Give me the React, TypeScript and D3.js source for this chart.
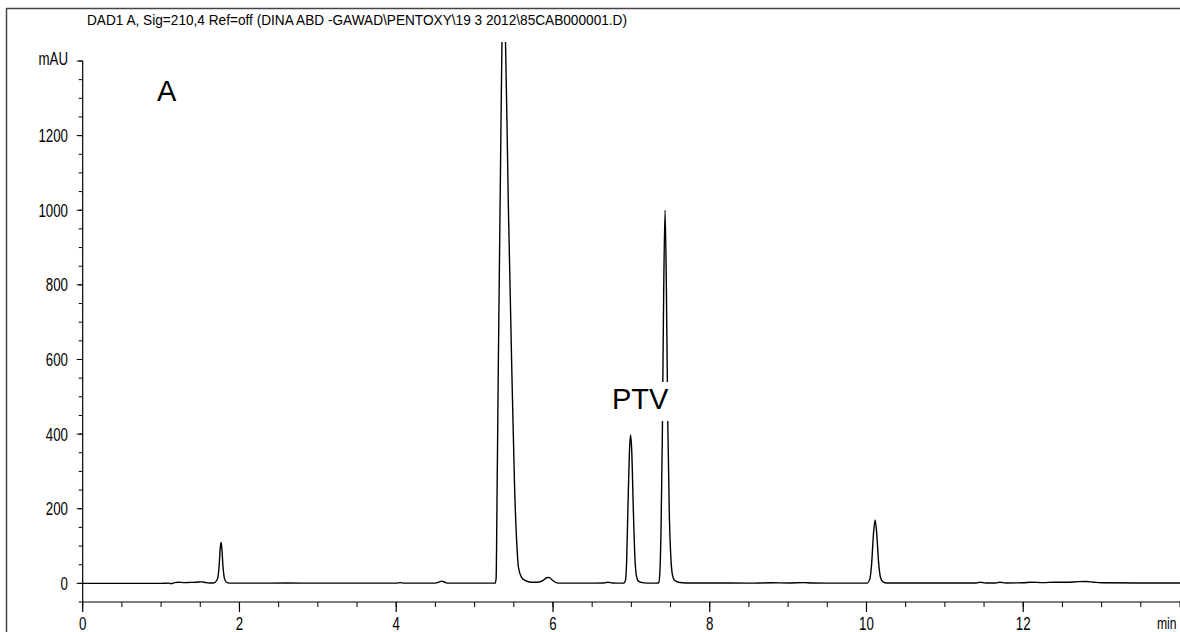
import React from "react";
import * as d3 from "d3";

const TITLE = "DAD1 A, Sig=210,4 Ref=off (DINA ABD -GAWAD\\PENTOXY\\19 3 2012\\85CAB000001.D)";

// trace segments: [time (min), signal (mAU)]
const baselineStart: [number, number][] = [
  [0, 0], [0.5, 0], [1.0, 0], [1.1, 0.5], [1.13, -1], [1.17, 2], [1.22, 3], [1.3, 2],
  [1.38, 2.5], [1.45, 3], [1.52, 4], [1.57, 2], [1.62, 1], [1.66, 1],
];
const peak1: [number, number][] = [
  [1.69, 3], [1.72, 12], [1.74, 45], [1.755, 95], [1.765, 110], [1.775, 95],
  [1.79, 45], [1.81, 12], [1.835, 3], [1.87, 0.5],
];
const baselineMid1: [number, number][] = [
  [2.2, 0.5], [2.6, 0.8], [3.0, 0.5], [3.5, 0.5], [4.0, 0.5], [4.05, 2], [4.1, 0.5],
  [4.5, 0.5], [4.55, 4], [4.58, 6], [4.62, 3], [4.66, 0.5], [5.0, 0.5], [5.24, 0.5],
];
const mainPeak: [number, number][] = [
  [5.265, 1], [5.275, 15], [5.285, 200], [5.303, 590], [5.33, 1100], [5.355, 1550],
  [5.368, 1650], [5.385, 1560], [5.43, 1020], [5.473, 590], [5.51, 260], [5.54, 100],
  [5.56, 42], [5.6, 16], [5.65, 7], [5.72, 3], [5.8, 3], [5.87, 7], [5.92, 15],
  [5.95, 16], [5.99, 9], [6.04, 2], [6.1, 0.5],
];
const baselineMid2: [number, number][] = [
  [6.4, 0.5], [6.65, 1], [6.7, 3], [6.76, 1], [6.88, 0.5],
];
const ptvPeak1: [number, number][] = [
  [6.905, 1], [6.925, 8], [6.94, 60], [6.955, 190], [6.975, 350], [6.99, 398],
  [7.005, 355], [7.025, 200], [7.045, 70], [7.065, 20], [7.09, 6], [7.14, 2],
  [7.25, 0.5], [7.33, 0.5],
];
const ptvPeak2: [number, number][] = [
  [7.35, 2], [7.365, 35], [7.38, 160], [7.395, 390], [7.412, 770], [7.43, 1000],
  [7.447, 790], [7.465, 430], [7.485, 180], [7.505, 65], [7.525, 22], [7.55, 8],
  [7.6, 3], [7.7, 1],
];
const baselineMid3: [number, number][] = [
  [8.0, 1], [8.5, 0.5], [8.8, 1.5], [9.0, 1], [9.2, 2], [9.3, 1], [9.6, 0.5], [9.98, 0.5],
];
const peak10: [number, number][] = [
  [10.01, 1], [10.04, 10], [10.065, 50], [10.09, 135], [10.11, 170], [10.13, 135],
  [10.155, 55], [10.18, 15], [10.21, 4], [10.26, 1],
];
const baselineEnd: [number, number][] = [
  [10.6, 1], [11.0, 1], [11.4, 1], [11.45, 3], [11.52, 1], [11.65, 1], [11.7, 3],
  [11.78, 1], [12.0, 1.5], [12.1, 3], [12.25, 2], [12.4, 3], [12.55, 3], [12.7, 4.5],
  [12.8, 5], [12.9, 3], [13.0, 1.5], [13.5, 1], [14, 1],
];

const X_MAJOR = [0, 2, 4, 6, 8, 10, 12];
const X_MINOR = d3.range(0, 14.01, 0.5);
const Y_MAJOR = [0, 200, 400, 600, 800, 1000, 1200];
const Y_MINOR = d3.range(-50, 1400.1, 50);

const FONT = "'Liberation Sans', Arial, sans-serif";
const NARROW = 0.76;

function NText({ x, y, anchor, size, children }: { x: number; y: number; anchor: "start" | "middle" | "end"; size: number; children: React.ReactNode }) {
  return (
    <text transform={`translate(${x},${y}) scale(${NARROW},1)`} textAnchor={anchor} fontFamily={FONT} fontSize={size} fill="#000">
      {children}
    </text>
  );
}

export default function App() {
  const W = 1180, H = 632;
  const x = d3.scaleLinear().domain([0, 14]).range([82.7, 1180]);
  const y = d3.scaleLinear().domain([-50, 1400]).range([602, 61]);
  const trace = [
    ...baselineStart, ...peak1, ...baselineMid1, ...mainPeak, ...baselineMid2,
    ...ptvPeak1, ...ptvPeak2, ...baselineMid3, ...peak10, ...baselineEnd,
  ];
  const line = d3.line<[number, number]>()
    .x(d => x(d[0]))
    .y(d => y(d[1]))
    .curve(d3.curveMonotoneX);
  const x0 = x(0), yb = y(-50);

  return (
    <svg width={W} height={H} style={{ position: "fixed", left: 0, top: 0, background: "#fff" }}>
      <defs>
        <clipPath id="plotClip">
          <rect x={x0} y={42} width={W - x0} height={yb - 42} />
        </clipPath>
      </defs>
      <rect x={0} y={0} width={W} height={H} fill="#fff" />
      {/* outer frame */}
      <line x1={6} y1={8.5} x2={W} y2={8.5} stroke="#444" strokeWidth={1.5} />
      <line x1={6.5} y1={8} x2={6.5} y2={H} stroke="#444" strokeWidth={1.5} />

      <text x={87} y={25} fontFamily={FONT} fontSize={14} textLength={540} lengthAdjust="spacingAndGlyphs" fill="#000">{TITLE}</text>

      {/* trace */}
      <path d={line(trace) ?? ""} fill="none" stroke="#000" strokeWidth={1.4} clipPath="url(#plotClip)" />

      {/* y axis */}
      <line x1={x0} y1={y(1400)} x2={x0} y2={yb} stroke="#000" strokeWidth={1.2} />
      {Y_MINOR.map(v => (
        <line key={"ym" + v} x1={x0 - 4} x2={x0} y1={y(v)} y2={y(v)} stroke="#000" strokeWidth={1} />
      ))}
      {Y_MAJOR.map(v => (
        <g key={"yM" + v}>
          <line x1={x0 - 6} x2={x0} y1={y(v)} y2={y(v)} stroke="#000" strokeWidth={1} />
          <NText x={68} y={y(v) + 6.5} anchor="end" size={17.5}>{v}</NText>
        </g>
      ))}
      <line x1={x0 - 6} x2={x0} y1={y(1400)} y2={y(1400)} stroke="#000" strokeWidth={1} />
      <NText x={68} y={y(1400) + 3.5} anchor="end" size={17.5}>mAU</NText>

      {/* x axis */}
      <line x1={x0} y1={yb} x2={W} y2={yb} stroke="#000" strokeWidth={1.2} />
      {X_MINOR.map(v => (
        <line key={"xm" + v} x1={x(v)} x2={x(v)} y1={yb} y2={yb + 5} stroke="#000" strokeWidth={1} />
      ))}
      {X_MAJOR.map(v => (
        <g key={"xM" + v}>
          <line x1={x(v)} x2={x(v)} y1={yb} y2={yb + 10} stroke="#000" strokeWidth={1.2} />
          <NText x={x(v)} y={629.5} anchor="middle" size={17.5}>{v}</NText>
        </g>
      ))}
      <NText x={1157} y={629} anchor="start" size={16}>min</NText>

      {/* annotations */}
      <text x={157} y={101} fontFamily={FONT} fontSize={29} fill="#000">A</text>
      <rect x={608} y={382} width={64} height={39} fill="#fff" />
      <text x={612} y={409} fontFamily={FONT} fontSize={29} fill="#000">PTV</text>
    </svg>
  );
}
